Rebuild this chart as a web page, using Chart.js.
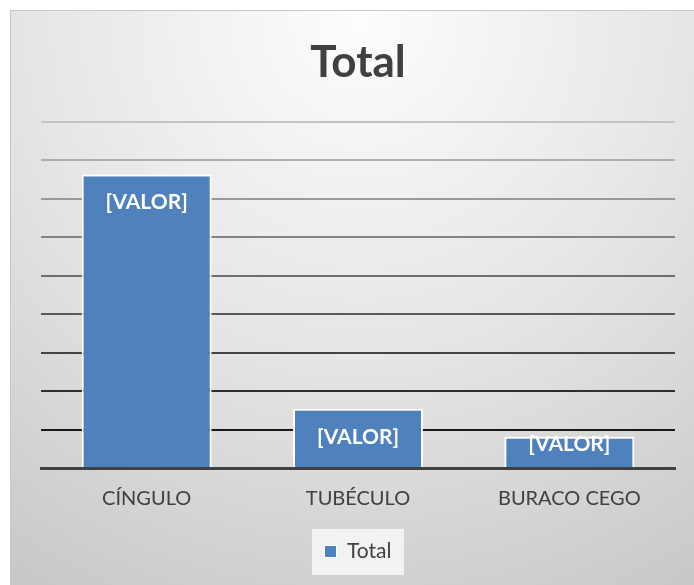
<!DOCTYPE html>
<html>
<head>
<meta charset="utf-8">
<script src="https://cdn.jsdelivr.net/npm/chart.js@4/dist/chart.umd.min.js"></script>
<style>
  html, body { margin: 0; padding: 0; background: #ffffff; }
  #wrap { position: relative; width: 694px; height: 585px; }
</style>
</head>
<body>
<div id="wrap"><canvas id="c" width="694" height="585"></canvas></div>
<script>
const categories = ['CÍNGULO', 'TUBÉCULO', 'BURACO CEGO'];
const seriesName = 'Total';
const totalValues = [76.3, 15.4, 8.1];
const dataLabelText = ['[VALOR]', '[VALOR]', '[VALOR]'];
const yMax = 90;
const yStep = 10;

const FONT = 'Lato, "Open Sans", "Liberation Sans", sans-serif';
const BAR = '#4F81BD';

const bgPlugin = {
  id: 'bg',
  beforeDraw(chart) {
    const c = chart.ctx;
    c.save();
    const g = c.createRadialGradient(360, 20, 0, 360, 20, 720);
    g.addColorStop(0, '#fdfdfd');
    g.addColorStop(0.45, '#e6e6e6');
    g.addColorStop(1, '#c2c2c2');
    c.fillStyle = g;
    c.fillRect(10, 10, 684, 575);
    c.strokeStyle = '#c8c8c8';
    c.lineWidth = 1;
    c.beginPath();
    c.moveTo(10.5, 585); c.lineTo(10.5, 10.5); c.lineTo(694, 10.5);
    c.stroke();
    // legend box
    const lg = chart.legend;
    if (lg && lg.legendHitBoxes && lg.legendHitBoxes.length) {
      const hb = lg.legendHitBoxes[0];
      const cx = hb.left + hb.width / 2;
      const cy = hb.top + hb.height / 2;
      c.fillStyle = '#f2f2f2';
      c.fillRect(Math.round(cx - 46), Math.round(cy - 23), 92, 46);
    }
    c.restore();
  }
};

const labelPlugin = {
  id: 'valLabels',
  afterDatasetsDraw(chart) {
    const c = chart.ctx;
    const meta = chart.getDatasetMeta(0);
    c.save();
    c.font = 'bold 21px ' + FONT;
    c.fillStyle = '#ffffff';
    c.textAlign = 'center';
    c.textBaseline = 'middle';
    meta.data.forEach((bar, i) => {
      const h = bar.base - bar.y;
      const y = h >= 56 ? bar.y + 28 : bar.y + 7;
      c.fillText(dataLabelText[i], bar.x, y);
    });
    c.restore();
  }
};

function gridColor(ctx) {
  const i = ctx.index;
  if (i === 0) return 'rgba(0,0,0,0)';
  const t = (i - 1) / 8; // 0 bottom .. 1 top
  const v = Math.round(25 + t * (195 - 25));
  return 'rgb(' + v + ',' + v + ',' + v + ')';
}

new Chart(document.getElementById('c'), {
  type: 'bar',
  data: {
    labels: categories,
    datasets: [{
      label: seriesName,
      data: totalValues,
      backgroundColor: BAR,
      borderColor: '#ffffff',
      borderWidth: 2,
      categoryPercentage: 1.0,
      barPercentage: 0.615
    }]
  },
  options: {
    responsive: false,
    animation: false,
    devicePixelRatio: 1,
    layout: { padding: { left: 41, right: 19, top: 10, bottom: 13 } },
    plugins: {
      title: {
        display: true,
        text: 'Total',
        color: '#404040',
        font: { family: FONT, size: 44, weight: 'bold', lineHeight: 1.2 },
        padding: { top: 26, bottom: 33 }
      },
      legend: {
        display: true,
        position: 'bottom',
        labels: {
          color: '#404040',
          font: { family: FONT, size: 21 },
          boxWidth: 12,
          boxHeight: 12,
          padding: 11,
          generateLabels(chart) {
            return [{
              text: seriesName,
              fillStyle: BAR,
              strokeStyle: '#ffffff',
              lineWidth: 1,
              fontColor: '#404040',
              datasetIndex: 0
            }];
          }
        }
      },
      tooltip: { enabled: false }
    },
    scales: {
      x: {
        grid: { display: false, drawTicks: false },
        border: { display: true, color: '#404040', width: 3 },
        ticks: {
          color: '#404040',
          font: { family: FONT, size: 20 },
          padding: 19,
          maxRotation: 0
        }
      },
      y: {
        min: 0,
        max: yMax,
        ticks: { display: false, stepSize: yStep },
        border: { display: false },
        grid: { color: gridColor, lineWidth: 2, drawTicks: false }
      }
    }
  },
  plugins: [bgPlugin, labelPlugin]
});
</script>
</body>
</html>
